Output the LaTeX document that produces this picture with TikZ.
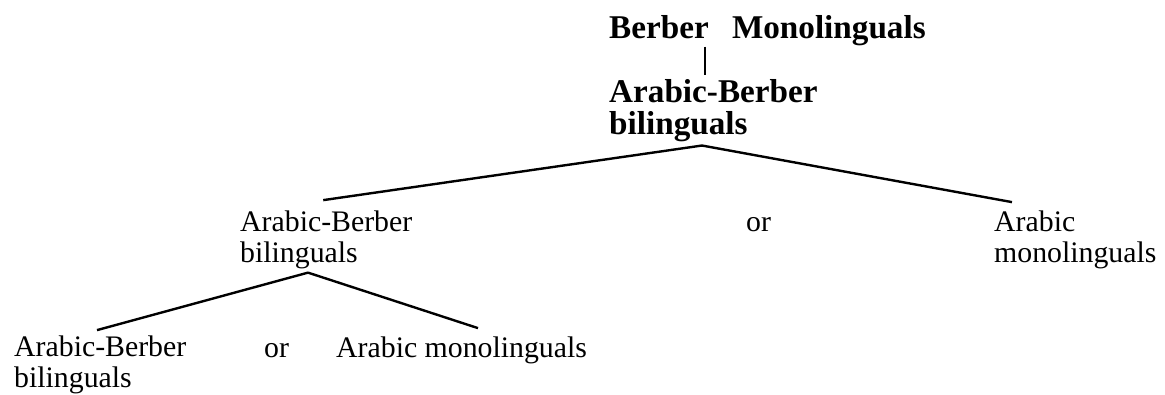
\documentclass[tikz,border=0pt]{standalone}
\usepackage{fontspec}
\setmainfont{Liberation Serif}
\usetikzlibrary{calc}

\begin{document}
\begin{tikzpicture}[x=0.5pt, y=-0.5pt, line width=1.2pt,
		every node/.style={inner sep=0pt, anchor=base west, align=left},
		grp/.style={font=\fontsize{16.6pt}{16pt}\selectfont\bfseries},
		lbl/.style={font=\fontsize{14.9pt}{15.5pt}\selectfont}]
				\useasboundingbox (0,0) rectangle (1165,395);
				
				% 1. top of the tree (bold); two-line nodes sit on their last line
				\node[grp] (top) at (608,39) {Berber\hspace{0.7em}Monolinguals};
				\node[grp] (ab0) at (608,135) {Arabic-Berber\\bilinguals};
				\draw[line width=1pt] ($(top.south west)+(97,-1)$) -- ($(ab0.north west)+(97,-4)$);
				
				% 2. second level: two outcomes
				\node[lbl] (ab1) at (239,262) {Arabic-Berber\\bilinguals};
				\node[lbl] (or1) at (745,231) {or};
				\node[lbl] (am1) at (993,262) {Arabic\\monolinguals};
				\coordinate (apex0) at ($(ab0.south west)+(94,2)$);
				\draw (apex0) -- ($(ab1.north)+(-3,-9)$);
				\draw (apex0) -- ($(am1.north west)+(19,-7)$);
				
				% 3. third level, below the bilinguals
				\node[lbl] (ab2) at (13,387) {Arabic-Berber\\bilinguals};
				\node[lbl] (or2) at (263,357) {or};
				\node[lbl] (am2) at (335,357) {Arabic monolinguals};
				\coordinate (apex1) at ($(ab1.south west)+(69,3)$);
				\draw (apex1) -- ($(ab2.north west)+(84,-4)$);
				\draw (apex1) -- ($(am2.north west)+(143,-7)$);
				
			\end{tikzpicture}
\end{document}
